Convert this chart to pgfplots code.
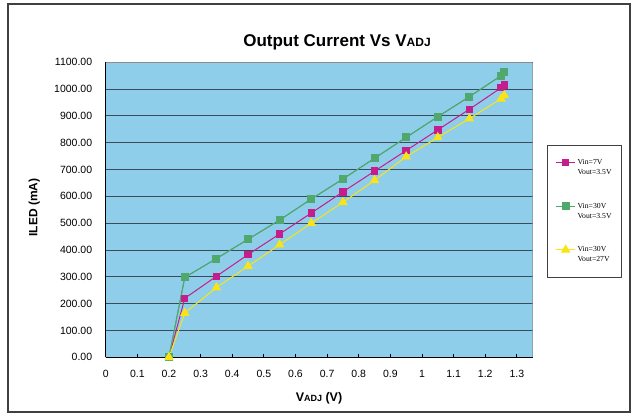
\documentclass[border=0pt]{standalone}
\usepackage{pgfplots}
\pgfplotsset{compat=1.18}
\usepackage{fontspec}
\setmainfont{Liberation Sans}
\newfontfamily\timesf{Liberation Serif}
\definecolor{bgblue}{RGB}{143,206,235}
\definecolor{mag}{RGB}{196,30,140}
\definecolor{grn}{RGB}{80,168,110}
\definecolor{yel}{RGB}{250,228,20}
\definecolor{gridc}{RGB}{60,75,90}

\pgfplotstableread{
x y
0.20 0
0.25 220
0.35 302
0.45 383
0.55 460
0.65 538
0.75 617
0.85 694
0.95 771
1.05 848
1.15 925
1.25 1005
1.26 1015
}\magdata
\pgfplotstableread{
x y
0.20 0
0.25 298
0.35 368
0.45 440
0.55 512
0.65 590
0.75 665
0.85 742
0.95 820
1.05 897
1.15 972
1.25 1050
1.26 1062
}\grndata
\pgfplotstableread{
x y
0.20 0
0.25 165
0.35 260
0.45 340
0.55 420
0.65 500
0.75 578
0.85 660
0.95 748
1.05 820
1.15 890
1.25 964
1.26 977
}\yeldata

\begin{document}
\begin{tikzpicture}[x=1pt,y=1pt]
\path (0,0) rectangle (632,414);
\draw[line width=1.5pt, black!75] (8,2) rectangle (630,410);
\begin{axis}[
  at={(105.7pt,56.7pt)}, anchor=south west,
  width=427pt, height=295pt, scale only axis,
  xmin=0, xmax=1.35, ymin=0, ymax=1100,
  axis background/.style={fill=bgblue},
  axis x line*=bottom, axis y line*=left,
  axis line style={black, line width=1pt, -},
  xtick={0,0.1,0.2,0.3,0.4,0.5,0.6,0.7,0.8,0.9,1.0,1.1,1.2,1.3},
  xticklabels={0,0.1,0.2,0.3,0.4,0.5,0.6,0.7,0.8,0.9,1,1.1,1.2,1.3},
  ytick={0,100,200,300,400,500,600,700,800,900,1000,1100},
  yticklabel style={/pgf/number format/fixed, /pgf/number format/fixed zerofill, /pgf/number format/precision=2, /pgf/number format/1000 sep={}, xshift=-10pt},
  /pgf/number format/assume math mode=true,
  tick label style={font=\fontsize{10.5}{12}\selectfont},
  xticklabel style={yshift=-9pt},
  tick align=inside,
  major tick length=3pt,
  xtick style={black, line width=0.8pt},
  ytick style={draw=none},
  ymajorgrids,
  major grid style={gridc, line width=1pt},
  legend style={at={(rel axis cs:1.034,0.72)}, anchor=north west,
    draw=black!75, line width=0.8pt, fill=white,
    inner xsep=8pt, inner ysep=12pt, row sep=23pt,
    font=\timesf\fontsize{7.7}{10}\selectfont,
    cells={align=left, anchor=west}},
  legend image code/.code={\draw[mark repeat=2,mark phase=2, yshift=5pt] plot coordinates {(0pt,0pt)(9.5pt,0pt)(19pt,0pt)};},
]
\addplot[grn, line width=1pt, mark=square*, mark size=3.5pt, mark options={fill=grn, draw=grn}, forget plot] table {\grndata};
\addplot[mag, line width=1pt, mark=square*, mark size=3.2pt, mark options={fill=mag, draw=mag}] table {\magdata};
\addlegendentry{Vin=7V\\Vout=3.5V}
\addplot[grn, line width=1pt, mark=square*, mark size=3.5pt, mark options={fill=grn, draw=grn}] table {\grndata};
\addlegendentry{Vin=30V\\Vout=3.5V}
\addplot[yel, line width=1pt, mark=triangle*, mark size=4.5pt, mark options={fill=yel, draw=yel}] table {\yeldata};
\addlegendentry{Vin=30V\\Vout=27V}
\draw[black!45, line width=1pt] (rel axis cs:0,1) -- (rel axis cs:1,1) -- (rel axis cs:1,0);
\end{axis}
\node[font=\fontsize{17}{20}\selectfont\bfseries] at (337,372) {Output Current Vs V{\fontsize{12}{14}\selectfont ADJ}};
\node[font=\fontsize{12}{14}\selectfont\bfseries, rotate=90] at (34.3,206.5) {ILED (mA)};
\node[font=\fontsize{12.5}{14}\selectfont\bfseries] at (319,15.7) {V{\fontsize{9}{10}\selectfont ADJ} (V)};
\end{tikzpicture}
\end{document}
